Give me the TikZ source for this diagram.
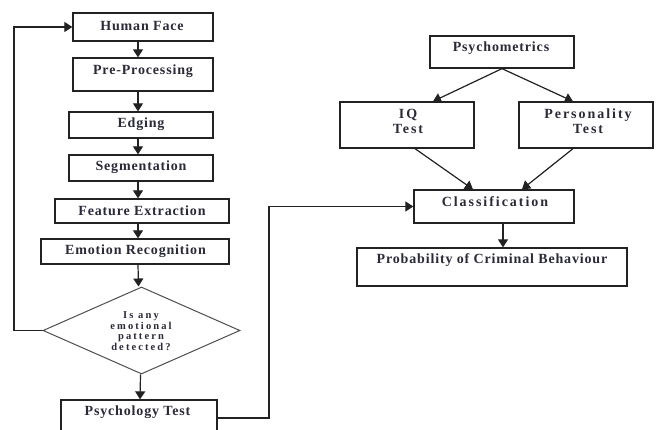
\documentclass[tikz,border=0pt]{standalone}
\usepackage{fontspec}
\setmainfont{Liberation Serif}[LetterSpace=6]
\newfontfamily\widefont{Liberation Serif}[LetterSpace=14]
\newfontfamily\dmfont{Liberation Serif}[LetterSpace=20]
\usetikzlibrary{arrows.meta,shapes.geometric,calc}
\definecolor{ink}{HTML}{222222}
\definecolor{txt}{HTML}{2A2A38}
\tikzset{
  box/.style={draw=ink,line width=1.3pt,rectangle,inner sep=0pt},
  lbl/.style={text=txt,font=\fontsize{14}{14}\selectfont\bfseries,inner sep=0pt,align=center},
  lblbig/.style={text=txt,font=\widefont\fontsize{14}{15}\selectfont\bfseries,inner sep=0pt,align=center},
  conn/.style={draw=ink,line width=1.2pt,-{Triangle[width=10pt,length=8pt]}},
}
\begin{document}
\begin{tikzpicture}[x=1pt,y=-1pt]
\useasboundingbox (0,0) rectangle (659,430);
\clip (0,0) rectangle (659,430);
\fill[white] (0,0) rectangle (659,430);
% left column boxes
\node[box,minimum width=140pt,minimum height=28pt] (hf) at (143,27) {};
\node[box,minimum width=140pt,minimum height=33pt] (pp) at (143,74.5) {};
\node[box,minimum width=144pt,minimum height=26pt] (ed) at (141,125) {};
\node[box,minimum width=144pt,minimum height=26pt] (sg) at (141,168) {};
\node[box,minimum width=174pt,minimum height=24pt] (fe) at (142,211) {};
\node[box,minimum width=188pt,minimum height=25pt] (er) at (135,251.5) {};
\node[draw=ink!80,line width=1pt,diamond,inner sep=0pt,minimum width=197pt,minimum height=87pt] (dm) at (141.5,330.5) {};
\node[box,minimum width=156pt,minimum height=36pt] (pt) at (139,418) {};
% left labels
\node[lbl] (thf) at (142,26) {Human Face};
\node[lbl] (tpp) at (143,71) {Pre-Processing};
\node[lbl] (ted) at (141,124) {Edging};
\node[lbl] (tsg) at (141,167) {Segmentation};
\node[lbl] (tfe) at (142,211) {Feature Extraction};
\node[lbl] (ter) at (135.5,251) {Emotion Recognition};
\node[lbl,font=\dmfont\fontsize{10.5}{10.5}\selectfont\bfseries] (tdm) at (141,331) {Is any\\emotional\\pattern\\detected?};
\node[lbl] (tpt) at (137.5,412) {Psychology Test};
% right boxes
\node[box,minimum width=144pt,minimum height=32pt] (pm) at (502,52) {};
\node[box,minimum width=134pt,minimum height=46pt] (iq) at (407,125) {};
\node[box,minimum width=134pt,minimum height=46pt] (ps) at (586,125) {};
\node[box,minimum width=160pt,minimum height=33pt] (cl) at (494,206.5) {};
\node[box,minimum width=270pt,minimum height=38pt] (pr) at (492,267) {};
% right labels
\node[lbl] (tpm) at (501,48) {Psychometrics};
\node[lblbig] (tiq) at (408,121) {IQ\\Test};
\node[lblbig] (tps) at (588,121) {Personality\\Test};
\node[lblbig] (tcl) at (495,202) {Classification};
\node[lbl] (tpr) at (492,260) {Probability of Criminal Behaviour};
% column of arrows
\coordinate (ax) at (138,0);
\draw[conn] (hf.south -| ax) -- (pp.north -| ax);
\draw[conn] (pp.south -| ax) -- (ed.north -| ax);
\draw[conn] (ed.south -| ax) -- (sg.north -| ax);
\draw[conn] (sg.south -| ax) -- (fe.north -| ax);
\draw[conn] (fe.south -| ax) -- (er.north -| ax);
\draw[conn] (er.south -| ax) -- ([xshift=-3pt]dm.north);
\draw[conn] ([xshift=-1pt]dm.south) -- ([xshift=1pt]pt.north);
% loop back
\coordinate (lp) at (14,330.5);
\draw[conn] (dm.west) -- (lp) |- (hf.west);
% to classification
\coordinate (rp) at (269,418);
\draw[conn] (pt.east) -- (rp) |- (cl.west);
% right arrows
\draw[conn] (pm.south) -- ([xshift=26pt]iq.north);
\draw[conn] (pm.south) -- ([xshift=-13pt]ps.north);
\draw[conn] ([xshift=8pt]iq.south) -- ([xshift=-21pt]cl.north);
\draw[conn] ([xshift=-13pt]ps.south) -- ([xshift=28pt]cl.north);
\draw[conn] ([xshift=9pt]cl.south) -- ([xshift=9pt]cl.south |- pr.north);
\end{tikzpicture}
\end{document}
